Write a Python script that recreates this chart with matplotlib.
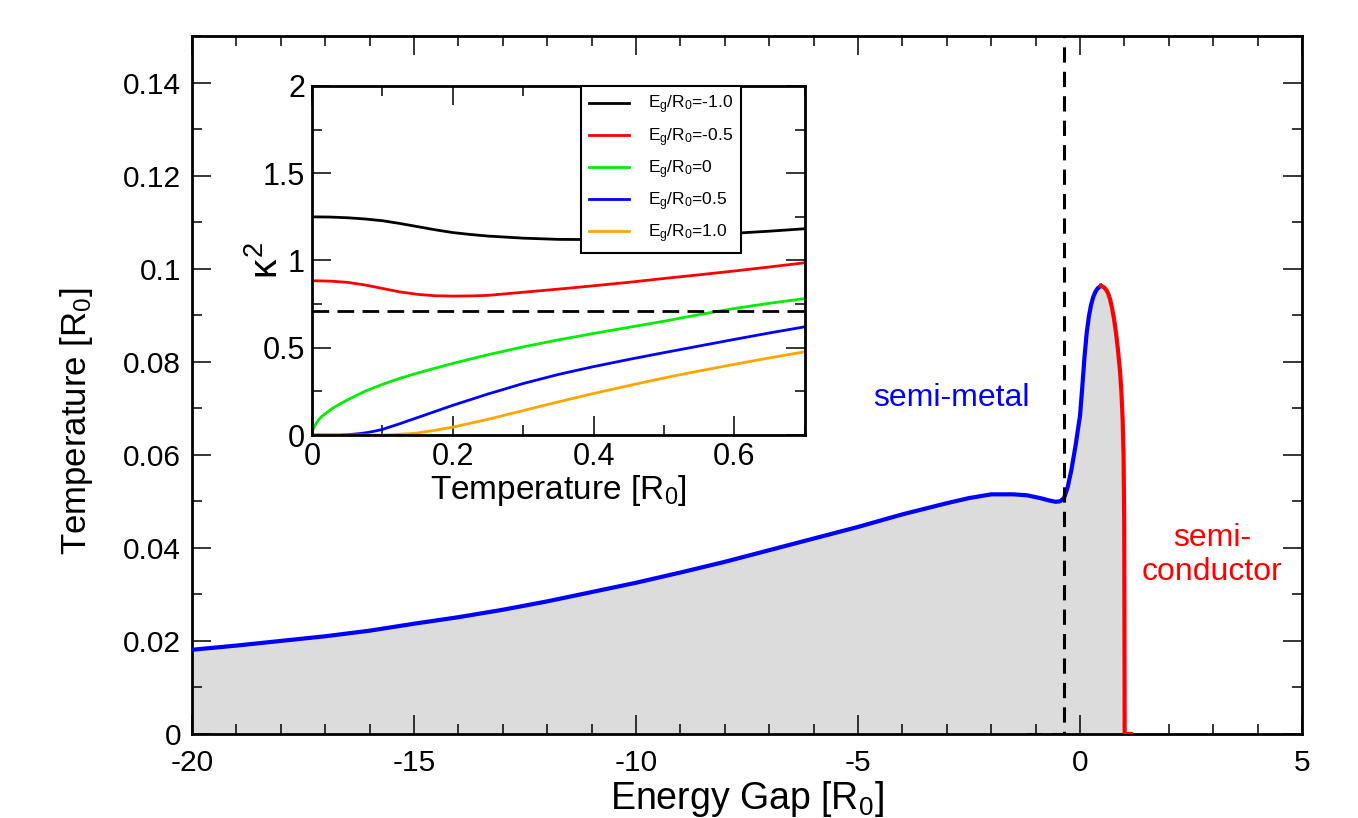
import matplotlib
matplotlib.use('Agg')
import matplotlib.pyplot as plt
from matplotlib.ticker import MultipleLocator

plt.rcParams['font.family'] = ['Liberation Sans', 'DejaVu Sans']
plt.rcParams['mathtext.fontset'] = 'custom'
plt.rcParams['mathtext.rm'] = 'Liberation Sans'
plt.rcParams['mathtext.it'] = 'Liberation Sans'
plt.rcParams['axes.unicode_minus'] = False

# phase boundary, semi-metal branch (blue)
gap_metal = [-20, -19, -18, -17, -16, -15, -14, -13, -12, -11, -10, -9, -8, -7, -6, -5, -4, -3,
             -2.5, -2, -1.5, -1.2, -0.9, -0.7, -0.55, -0.45, -0.36, -0.28, -0.2, -0.1, 0.0,
             0.05, 0.1, 0.15, 0.2, 0.25, 0.3, 0.35, 0.4, 0.44, 0.47]
temp_metal = [0.0181, 0.0190, 0.0200, 0.0210, 0.0222, 0.0237, 0.0251, 0.0267, 0.0285, 0.0305,
              0.0325, 0.0347, 0.0370, 0.0395, 0.0420, 0.0445, 0.0472, 0.0496, 0.0507, 0.0515,
              0.0515, 0.0513, 0.0507, 0.0502, 0.0499, 0.0500, 0.0507, 0.0530, 0.0565, 0.0620,
              0.0685, 0.0745, 0.0810, 0.0862, 0.0898, 0.0923, 0.0940, 0.0951, 0.0958, 0.0961,
              0.0963]

# semi-conductor branch (red)
gap_semi = [0.47, 0.5, 0.55, 0.6, 0.64, 0.68, 0.72, 0.76, 0.79, 0.82, 0.85, 0.88, 0.9, 0.93,
            0.96, 0.98, 0.995, 1.0, 1.005, 1.15]
temp_semi = [0.0963, 0.0962, 0.0959, 0.0953, 0.0945, 0.0933, 0.0916, 0.0895, 0.0876, 0.0854,
             0.0829, 0.0800, 0.0780, 0.0738, 0.0675, 0.0600, 0.0450, 0.0250, 0.0, 0.0]

# critical gap (dashed)
gap_crit = [-1.2, -0.36, -0.36]
temp_crit = [0.0, 0.0, 0.15]

# inset: kappa^2 vs temperature
inset_labels = ['E$_g$/R$_0$=-1.0', 'E$_g$/R$_0$=-0.5', 'E$_g$/R$_0$=0',
                'E$_g$/R$_0$=0.5', 'E$_g$/R$_0$=1.0']
inset_colors = ['black', 'red', '#00ee00', 'blue', 'orange']

t_m10 = [0, 0.025, 0.05, 0.075, 0.1, 0.125, 0.15, 0.175, 0.2, 0.225, 0.25, 0.3, 0.35, 0.4,
         0.45, 0.5, 0.55, 0.6, 0.65, 0.7]
k_m10 = [1.25, 1.249, 1.245, 1.238, 1.228, 1.212, 1.194, 1.176, 1.16, 1.149, 1.14, 1.128, 1.121,
         1.12, 1.124, 1.13, 1.142, 1.156, 1.168, 1.182]

t_m05 = [0, 0.025, 0.05, 0.075, 0.1, 0.125, 0.15, 0.175, 0.2, 0.225, 0.25, 0.3, 0.35, 0.4,
         0.45, 0.5, 0.55, 0.6, 0.65, 0.7]
k_m05 = [0.884, 0.882, 0.875, 0.86, 0.84, 0.82, 0.806, 0.798, 0.796, 0.797, 0.80, 0.818, 0.836,
         0.855, 0.875, 0.897, 0.918, 0.94, 0.963, 0.987]

t_0 = [0, 0.001, 0.002, 0.005, 0.01, 0.015, 0.02, 0.03, 0.04, 0.05, 0.075, 0.1, 0.125, 0.15,
       0.175, 0.2, 0.25, 0.3, 0.35, 0.4, 0.45, 0.5, 0.55, 0.6, 0.65, 0.7]
k_0 = [0, 0.025, 0.035, 0.06, 0.09, 0.11, 0.125, 0.155, 0.178, 0.2, 0.25, 0.29, 0.325, 0.355,
       0.383, 0.41, 0.46, 0.505, 0.545, 0.582, 0.617, 0.652, 0.69, 0.725, 0.755, 0.782]

t_p05 = [0, 0.04, 0.05, 0.06, 0.07, 0.08, 0.09, 0.1, 0.125, 0.15, 0.175, 0.2, 0.25, 0.3, 0.35,
         0.4, 0.45, 0.5, 0.55, 0.6, 0.65, 0.7]
k_p05 = [0, 0, 0.002, 0.005, 0.009, 0.015, 0.023, 0.032, 0.065, 0.1, 0.135, 0.17, 0.235, 0.295,
         0.347, 0.392, 0.433, 0.472, 0.51, 0.548, 0.585, 0.62]

t_p10 = [0, 0.1, 0.11, 0.125, 0.14, 0.15, 0.175, 0.2, 0.25, 0.3, 0.35, 0.4, 0.45, 0.5, 0.55,
         0.6, 0.65, 0.7]
k_p10 = [0, 0, 0.001, 0.004, 0.008, 0.012, 0.027, 0.045, 0.09, 0.14, 0.19, 0.238, 0.283, 0.327,
         0.367, 0.405, 0.442, 0.477]

kappa_crit = 0.712


def style_axes(ax, lw, major, minor, size, xpad, ypad):
    for s in ax.spines.values():
        s.set_linewidth(lw)
    ax.tick_params(which='both', direction='in', top=True, right=True, width=1.1)
    ax.tick_params(which='major', length=major, labelsize=size)
    ax.tick_params(which='minor', length=minor)
    ax.tick_params(axis='x', which='major', pad=xpad)
    ax.tick_params(axis='y', which='major', pad=ypad)


fig = plt.figure(figsize=(13.58, 8.18), dpi=100)
ax = fig.add_axes([0.1414, 0.1027, 0.8174, 0.8533])

gap_all = gap_metal + gap_semi[1:]
temp_all = temp_metal + temp_semi[1:]
ax.fill_between(gap_all, temp_all, 0, color='#dcdcdc', lw=0, zorder=1)
ax.plot(gap_metal, temp_metal, color='blue', lw=3, zorder=3)
ax.plot(gap_semi, temp_semi, color='red', lw=3, zorder=3)
ax.plot(gap_crit, temp_crit, color='black', lw=2.2, ls=(0, (5, 3)), zorder=4)

ax.set_xlim(-20, 5)
ax.set_ylim(0, 0.15)
ax.xaxis.set_major_locator(MultipleLocator(5))
ax.xaxis.set_minor_locator(MultipleLocator(1))
ax.yaxis.set_minor_locator(MultipleLocator(0.01))
ax.set_yticks([0, 0.02, 0.04, 0.06, 0.08, 0.1, 0.12, 0.14])
ax.set_yticklabels(['0', '0.02', '0.04', '0.06', '0.08', '0.1', '0.12', '0.14'])
style_axes(ax, 2, 14, 7, 21.5, 10.5, 8)
ax.set_xlabel('Energy Gap [R$_0$]', fontsize=27)
ax.xaxis.set_label_coords(0.5, -0.065)
ax.set_ylabel('Temperature [R$_0$]', fontsize=25)
ax.yaxis.set_label_coords(-0.087, 0.448)

ax.text(-2.9, 0.0723, 'semi-metal', color='blue', fontsize=23, ha='center', va='center')
ax.text(2.97, 0.0385, 'semi-\nconductor', color='red', fontsize=23, ha='center', va='center',
        linespacing=1.2)

# inset
axi = fig.add_axes([0.2297, 0.4682, 0.363, 0.4267])
series = [(t_m10, k_m10), (t_m05, k_m05), (t_0, k_0), (t_p05, k_p05), (t_p10, k_p10)]
for (t, k), lab, c in zip(series, inset_labels, inset_colors):
    axi.plot(t, k, color=c, lw=2, label=lab)
axi.axhline(kappa_crit, color='black', lw=2, ls=(0, (6, 3)))
axi.set_xlim(0, 0.7)
axi.set_ylim(0, 2)
axi.xaxis.set_minor_locator(MultipleLocator(0.1))
axi.yaxis.set_minor_locator(MultipleLocator(0.25))
axi.set_yticks([0, 0.5, 1, 1.5, 2])
axi.set_yticklabels(['0', '0.5', '1', '1.5', '2'])
axi.set_xticks([0, 0.2, 0.4, 0.6])
axi.set_xticklabels(['0', '0.2', '0.4', '0.6'])
style_axes(axi, 2, 14, 7, 22, 5, 5)
axi.set_xlabel('Temperature [R$_0$]', fontsize=24, labelpad=1)
axi.set_ylabel('$\\kappa^2$', fontsize=28)
axi.yaxis.set_label_coords(-0.052, 0.5)

leg = axi.legend(loc='upper left', bbox_to_anchor=(0.546, 1.0), borderaxespad=0,
                 fontsize=12.5, frameon=True, fancybox=False, handlelength=2.3,
                 handletextpad=1.1, labelspacing=0.55, borderpad=0.45)
leg.get_frame().set_edgecolor('black')
leg.get_frame().set_linewidth(1.5)
leg.get_frame().set_alpha(1)

fig.savefig('out.png', dpi=100)
